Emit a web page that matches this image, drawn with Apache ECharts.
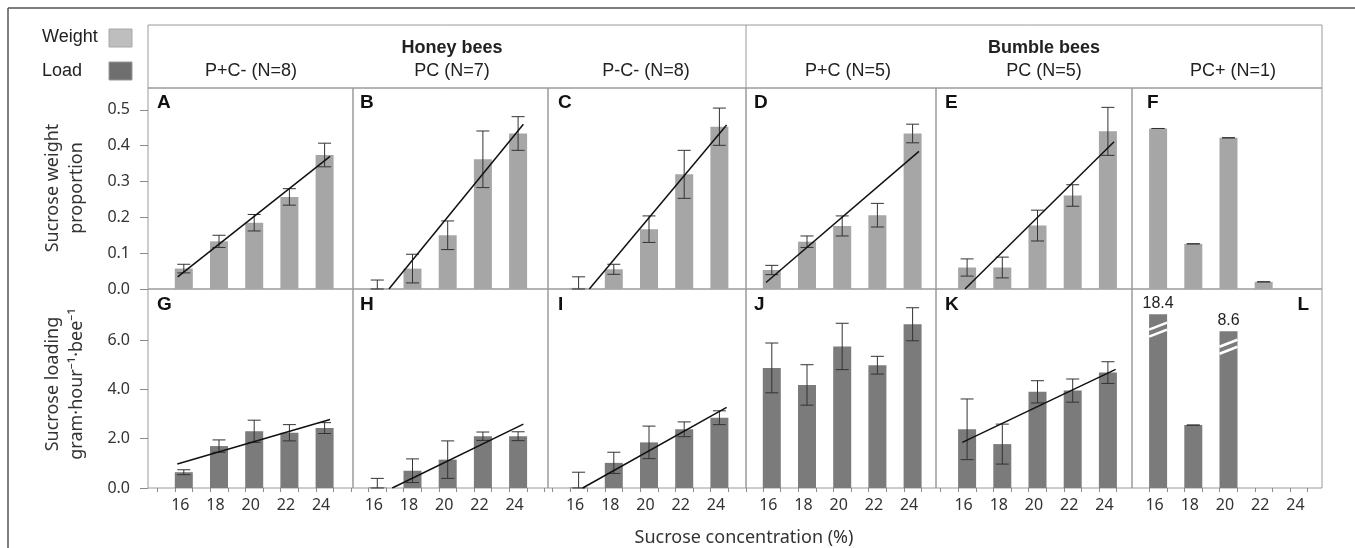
<!DOCTYPE html>
<html>
<head>
<meta charset="utf-8">
<script src="https://cdn.jsdelivr.net/npm/echarts@6/dist/echarts.min.js"></script>
<style>
html, body { margin: 0; padding: 0; background: #fff; }
#chart { width: 1355px; height: 548px; }
</style>
</head>
<body>
<div id="chart"></div>
<script>
// sucrose concentrations (%) on the x axis
var conc = [16, 18, 20, 22, 24];
var groupNames = ['Honey bees', 'Bumble bees'];
var treatmentNames = ['P+C- (N=8)', 'PC (N=7)', 'P-C- (N=8)', 'P+C (N=5)', 'PC (N=5)', 'PC+ (N=1)'];
var letters = [['A', 'B', 'C', 'D', 'E', 'F'], ['G', 'H', 'I', 'J', 'K', 'L']];
var weightTicks = [0, 0.1, 0.2, 0.3, 0.4, 0.5];
var loadTicks = [0, 2, 4, 6];

// sucrose weight proportion, mean and error, panels A-F
var weightMean = [
  [0.057, 0.133, 0.185, 0.257, 0.374],
  [0.002, 0.057, 0.150, 0.362, 0.434],
  [0.003, 0.055, 0.167, 0.320, 0.453],
  [0.053, 0.132, 0.176, 0.206, 0.434],
  [0.060, 0.060, 0.177, 0.261, 0.440],
  [0.448, 0.126, 0.422, 0.020, null]
];
var weightErr = [
  [0.012, 0.017, 0.023, 0.023, 0.033],
  [0.023, 0.040, 0.040, 0.079, 0.047],
  [0.031, 0.014, 0.037, 0.067, 0.052],
  [0.013, 0.016, 0.028, 0.033, 0.026],
  [0.024, 0.029, 0.043, 0.030, 0.067],
  [0, 0, 0, 0, null]
];
// sucrose loading, mean and error, panels G-L
var loadMean = [
  [0.64, 1.70, 2.30, 2.24, 2.43],
  [0.02, 0.70, 1.15, 2.10, 2.10],
  [0.02, 1.02, 1.85, 2.38, 2.85],
  [4.87, 4.18, 5.74, 4.98, 6.64],
  [2.38, 1.78, 3.90, 3.95, 4.68],
  [18.4, 2.55, 8.6, null, null]
];
var loadErr = [
  [0.10, 0.25, 0.45, 0.33, 0.22],
  [0.37, 0.48, 0.76, 0.17, 0.18],
  [0.62, 0.43, 0.66, 0.30, 0.28],
  [1.01, 0.82, 0.94, 0.36, 0.67],
  [1.23, 0.81, 0.45, 0.47, 0.44],
  [null, 0, null, null, null]
];
// panel L: bars cut off (axis break) at these heights
var loadBreakAt = [7.05, null, 6.36, null, null];

// regression lines [x1, y1, x2, y2]
var weightFit = [
  [16.15, 0.034, 24.81, 0.370],
  [17.16, 0, 24.80, 0.460],
  [17.11, 0, 24.91, 0.458],
  [16.17, 0.018, 24.86, 0.384],
  [16.38, 0, 24.85, 0.411],
  null
];
var loadFit = [
  [16.13, 0.97, 24.81, 2.78],
  [17.35, 0, 24.80, 2.59],
  [16.73, 0, 24.91, 3.27],
  null,
  [16.23, 1.85, 24.94, 4.81],
  null
];

// layout
var colEdges = [148, 353, 548, 746, 936, 1132, 1322];
var colX16 = [175, 368.5, 569.8, 763, 958.3, 1149.3];
var unitPx = 17.6;
var rowTop = [88, 289];
var rowH = [201, 199];
var yMax = [0.561, 8.07];
var barColor = ['#a6a6a6', '#7b7b7b'];
var letterX = [157, 360, 558, 754, 945, 1147];

var sans = '"Liberation Sans", Arial, sans-serif';
var tickFont = '"Noto Sans", "Open Sans", sans-serif';

var grids = [], xAxes = [], yAxes = [], series = [];

function errRender(params, api) {
  var x = api.value(0), m = api.value(1), e = api.value(2);
  var top = api.coord([x, m + e]);
  var bot = api.coord([x, Math.max(0, m - e)]);
  var hw = 6.5;
  var st = { stroke: '#333', lineWidth: 1 };
  return {
    type: 'group',
    children: [
      { type: 'line', shape: { x1: top[0], y1: top[1], x2: bot[0], y2: bot[1] }, style: st },
      { type: 'line', shape: { x1: top[0] - hw, y1: top[1], x2: top[0] + hw, y2: top[1] }, style: st },
      { type: 'line', shape: { x1: bot[0] - hw, y1: bot[1], x2: bot[0] + hw, y2: bot[1] }, style: st }
    ]
  };
}

function breakRender(params, api) {
  var p = api.coord([api.value(0), api.value(1)]);
  var l = p[0] - 9, r = p[0] + 9;
  var st = { stroke: '#fff', lineWidth: 2.6 };
  var kids = [12, 19].map(function (off) {
    return { type: 'line', shape: { x1: l, y1: p[1] + off + 3.5, x2: r, y2: p[1] + off - 3.5 }, style: st };
  });
  return { type: 'group', children: kids };
}

for (var r = 0; r < 2; r++) {
  for (var c = 0; c < 6; c++) {
    var i = r * 6 + c;
    var xmin = 16 - (colX16[c] - colEdges[c]) / unitPx;
    var xmax = 16 + (colEdges[c + 1] - colX16[c]) / unitPx;
    var xt = [];
    for (var t = Math.ceil(xmin); t <= xmax; t++) xt.push(t);
    var ticks = r === 0 ? weightTicks : loadTicks;

    grids.push({
      left: colEdges[c], top: rowTop[r],
      width: colEdges[c + 1] - colEdges[c], height: rowH[r],
      show: true, borderColor: '#9a9a9a', borderWidth: 1, backgroundColor: 'transparent',
      outerBoundsMode: 'none'
    });
    xAxes.push({
      type: 'value', gridIndex: i, min: xmin, max: xmax,
      axisLine: { show: false }, splitLine: { show: false },
      axisTick: { show: r === 1, length: 4, customValues: xt, lineStyle: { color: '#8a8a8a' } },
      axisLabel: {
        show: r === 1, margin: 9, color: '#333', fontSize: 16, fontFamily: tickFont,
        customValues: conc.map(function (v) { return v + 0.3; }),
        formatter: function (v) { return String(Math.round(v - 0.3)); }
      }
    });
    yAxes.push({
      type: 'value', gridIndex: i, min: 0, max: yMax[r],
      axisLine: { show: false }, splitLine: { show: false },
      axisTick: { show: c === 0, length: 8, customValues: ticks, lineStyle: { color: '#8a8a8a' } },
      axisLabel: {
        show: c === 0, margin: 18, color: '#333', fontSize: 16, fontFamily: tickFont,
        customValues: ticks,
        formatter: function (v) { return v.toFixed(1); }
      }
    });

    var mean = (r === 0 ? weightMean : loadMean)[c];
    var err = (r === 0 ? weightErr : loadErr)[c];
    var fit = (r === 0 ? weightFit : loadFit)[c];
    var barData = [], errData = [], brkData = [];
    conc.forEach(function (cv, k) {
      if (mean[k] == null) return;
      var broken = (r === 1 && c === 5 && loadBreakAt[k] != null);
      if (broken) {
        barData.push({
          value: [cv + 0.5, loadBreakAt[k]],
          label: {
            show: true, position: 'top', distance: 3, formatter: String(mean[k]),
            fontSize: 16, color: '#222', fontFamily: sans
          }
        });
        brkData.push([cv + 0.5, loadBreakAt[k]]);
      } else {
        barData.push([cv + 0.5, mean[k]]);
      }
      if (err[k] != null) errData.push([cv + 0.5, mean[k], err[k]]);
    });

    series.push({
      type: 'bar', xAxisIndex: i, yAxisIndex: i, data: barData, barWidth: 18,
      itemStyle: { color: barColor[r] }, silent: true
    });
    if (brkData.length) {
      series.push({ type: 'custom', xAxisIndex: i, yAxisIndex: i, data: brkData, renderItem: breakRender, z: 4, silent: true });
    }
    series.push({ type: 'custom', xAxisIndex: i, yAxisIndex: i, data: errData, renderItem: errRender, z: 5, silent: true });
    if (fit) {
      series.push({
        type: 'line', xAxisIndex: i, yAxisIndex: i, data: [[fit[0], fit[1]], [fit[2], fit[3]]],
        symbol: 'none', lineStyle: { color: '#111', width: 1.5 }, z: 6, silent: true
      });
    }
  }
}

var graphics = [
  { type: 'line', shape: { x1: 8, y1: 8, x2: 1355, y2: 8 }, style: { stroke: '#555', lineWidth: 1.5 } },
  { type: 'line', shape: { x1: 8, y1: 8, x2: 8, y2: 548 }, style: { stroke: '#555', lineWidth: 1.5 } },
  { type: 'rect', shape: { x: 148, y: 25, width: 1174, height: 63 }, style: { fill: 'none', stroke: '#9a9a9a', lineWidth: 1 } },
  { type: 'line', shape: { x1: 746, y1: 25, x2: 746, y2: 88 }, style: { stroke: '#9a9a9a', lineWidth: 1 } },
  // legend
  { type: 'text', x: 42, y: 37, style: { text: 'Weight', font: '18px ' + sans, fill: '#222', verticalAlign: 'middle' } },
  { type: 'rect', shape: { x: 109, y: 29, width: 23, height: 18 }, style: { fill: '#bebebe', stroke: '#a8a8a8' } },
  { type: 'text', x: 42, y: 71, style: { text: 'Load', font: '18px ' + sans, fill: '#222', verticalAlign: 'middle' } },
  { type: 'rect', shape: { x: 109, y: 62, width: 23, height: 18 }, style: { fill: '#6f6f6f', stroke: '#999' } },
  // axis names
  { type: 'text', x: 65, y: 188, rotation: Math.PI / 2,
    style: { text: 'Sucrose weight\nproportion', font: '18px ' + tickFont, fill: '#333', align: 'center', verticalAlign: 'middle', lineHeight: 24 } },
  { type: 'text', x: 65, y: 384, rotation: Math.PI / 2,
    style: { text: 'Sucrose loading\ngram\u00b7hour\u207b\u00b9\u00b7bee\u207b\u00b9', font: '18px ' + tickFont, fill: '#333', align: 'center', verticalAlign: 'middle', lineHeight: 24 } },
  { type: 'text', x: 744, y: 538, style: { text: 'Sucrose concentration (%)', font: '18px ' + tickFont, fill: '#333', align: 'center', verticalAlign: 'middle' } },
  // header
  { type: 'text', x: 452, y: 48, style: { text: groupNames[0], font: 'bold 18px ' + sans, fill: '#222', align: 'center', verticalAlign: 'middle' } },
  { type: 'text', x: 1044, y: 48, style: { text: groupNames[1], font: 'bold 18px ' + sans, fill: '#222', align: 'center', verticalAlign: 'middle' } }
];
var headX = [251, 452, 646, 848, 1044, 1233];
treatmentNames.forEach(function (t, k) {
  graphics.push({ type: 'text', x: headX[k], y: 71, style: { text: t, font: '18px ' + sans, fill: '#222', align: 'center', verticalAlign: 'middle' } });
});
letters.forEach(function (row, rr) {
  row.forEach(function (L, k) {
    var right = (rr === 1 && k === 5);
    graphics.push({
      type: 'text', x: right ? 1309 : letterX[k], y: rr === 0 ? 103 : 305,
      style: { text: L, font: 'bold 19px ' + sans, fill: '#111', align: right ? 'right' : 'left', verticalAlign: 'middle' }
    });
  });
});

var chart = echarts.init(document.getElementById('chart'));
chart.setOption({
  animation: false,
  backgroundColor: '#fff',
  grid: grids,
  xAxis: xAxes,
  yAxis: yAxes,
  series: series,
  graphic: graphics
});
</script>
</body>
</html>
